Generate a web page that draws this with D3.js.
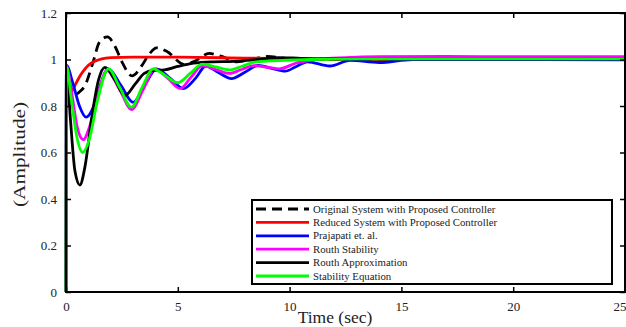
<!DOCTYPE html>
<html>
<head>
<meta charset="utf-8">
<script src="https://cdn.jsdelivr.net/npm/d3@7"></script>
<style>
  html, body { margin: 0; padding: 0; background: #fff; }
  svg { display: block; }
  text { font-family: "Liberation Serif", "Times New Roman", serif; fill: #222; }
</style>
</head>
<body>
<svg id="chart" width="626" height="327"></svg>
<script>
// ---- Data ----
const xTicks = [0, 5, 10, 15, 20, 25];
const yTicks = [0, 0.2, 0.4, 0.6, 0.8, 1, 1.2];
const seriesNames = [
  "Original System with Proposed Controller",
  "Reduced System with Proposed Controller",
  "Prajapati et. al.",
  "Routh Stability",
  "Routh Approximation",
  "Stability Equation"
];
const seriesColors = ["#000000", "#ff0000", "#0000ff", "#ff00ff", "#000000", "#00ff00"];

const tOriginal = [0, 0.3, 0.6, 0.85, 1.2, 1.5, 1.85, 2.2, 2.5, 2.95, 3.4, 3.7, 4.05, 4.5, 5.3, 5.8, 6.4, 7.0, 7.6, 8.3, 9.0, 9.7, 10.3, 11.5, 13, 16, 20, 25];
const vOriginal = [0.80, 0.84, 0.86, 0.888, 0.985, 1.075, 1.097, 1.055, 0.99, 0.93, 0.975, 1.02, 1.05, 1.035, 0.978, 0.995, 1.026, 1.012, 0.99, 1.0, 1.013, 1.006, 0.997, 1.0, 1.0, 1.0, 1.0, 1.0];

const tReduced = [0, 0.2, 0.4, 0.6, 0.8, 1.0, 1.3, 1.6, 2.0, 3, 5, 8, 11, 15, 25];
const vReduced = [0.80, 0.85, 0.888, 0.925, 0.953, 0.975, 0.993, 1.003, 1.008, 1.01, 1.01, 1.006, 1.002, 1.0, 1.0];

const tPrajapati = [0, 0.02, 0.3, 0.6, 0.9, 1.2, 1.5, 1.9, 2.45, 3.0, 3.5, 4.05, 4.65, 5.25, 5.8, 6.25, 6.8, 7.4, 8.0, 8.6, 9.2, 9.8, 10.3, 10.8, 11.8, 12.7, 14, 15.5, 17, 20, 25];
const vPrajapati = [0, 0.975, 0.90, 0.80, 0.752, 0.79, 0.88, 0.96, 0.89, 0.816, 0.885, 0.96, 0.92, 0.875, 0.92, 0.972, 0.945, 0.918, 0.945, 0.975, 0.962, 0.95, 0.97, 0.99, 0.972, 0.996, 0.987, 1.0, 1.0, 1.0, 0.998];

const tRouthStab = [0, 0.02, 0.25, 0.5, 0.77, 1.05, 1.4, 1.83, 2.4, 2.93, 3.45, 3.97, 4.55, 5.1, 5.6, 6.1, 6.7, 7.3, 7.85, 8.4, 9.0, 9.55, 10.3, 11.2, 12.5, 14, 17, 20, 25];
const vRouthStab = [0, 0.97, 0.86, 0.71, 0.655, 0.71, 0.84, 0.953, 0.87, 0.785, 0.87, 0.96, 0.92, 0.875, 0.925, 0.974, 0.957, 0.94, 0.957, 0.974, 0.967, 0.96, 0.985, 1.0, 1.008, 1.012, 1.013, 1.012, 1.012];

const tRouthApprox = [0, 0.02, 0.2, 0.4, 0.62, 0.85, 1.15, 1.45, 1.74, 2.2, 2.63, 3.1, 3.5, 3.9, 4.4, 5.0, 5.7, 6.5, 7.5, 8.6, 9.5, 10.5, 12, 15, 20, 25];
const vRouthApprox = [0, 0.97, 0.74, 0.52, 0.46, 0.54, 0.75, 0.91, 0.966, 0.91, 0.845, 0.895, 0.94, 0.953, 0.955, 0.97, 0.984, 0.99, 0.992, 1.0, 1.008, 1.005, 1.003, 1.003, 1.003, 1.003];

const tStabEq = [0, 0.02, 0.25, 0.5, 0.74, 1.05, 1.4, 1.9, 2.4, 2.93, 3.4, 3.9, 4.45, 5.0, 5.55, 6.1, 6.7, 7.3, 7.9, 8.5, 9.5, 11, 13, 16, 20, 25];
const vStabEq = [0, 0.97, 0.82, 0.66, 0.60, 0.66, 0.82, 0.96, 0.88, 0.795, 0.88, 0.96, 0.93, 0.90, 0.94, 0.98, 0.968, 0.955, 0.972, 0.99, 0.995, 1.0, 1.003, 1.003, 1.003, 1.003];

const seriesT = [tOriginal, tReduced, tPrajapati, tRouthStab, tRouthApprox, tStabEq];
const seriesV = [vOriginal, vReduced, vPrajapati, vRouthStab, vRouthApprox, vStabEq];
const seriesDash = ["10,6", null, null, null, null, null];

// ---- Layout ----
const svg = d3.select("#chart");
const pL = 66, pR = 625, pT = 13, pB = 292;
const x = d3.scaleLinear().domain([0, 25]).range([pL, pR]);
const y = d3.scaleLinear().domain([0, 1.2]).range([pB, pT]);

svg.append("defs").append("clipPath").attr("id", "clip")
  .append("rect").attr("x", pL - 2).attr("y", pT).attr("width", pR - pL + 2).attr("height", pB - pT);

const line = d3.line().x(d => x(d[0])).y(d => y(d[1])).curve(d3.curveMonotoneX);
const gLines = svg.append("g").attr("clip-path", "url(#clip)");
seriesNames.forEach((name, i) => {
  const pts = seriesT[i].map((t, j) => [t, seriesV[i][j]]);
  gLines.append("path")
    .attr("d", line(pts))
    .attr("fill", "none")
    .attr("stroke", seriesColors[i])
    .attr("stroke-width", 2.8)
    .attr("stroke-dasharray", seriesDash[i])
    .attr("stroke-linejoin", "round");
});

const fmtY = d => (d === 0 || d === 1) ? String(d) : d3.format(".1f")(d);
const axB = svg.append("g").attr("transform", `translate(0,${pB})`)
  .call(d3.axisBottom(x).tickValues(xTicks).tickSize(-5).tickPadding(10).tickFormat(d3.format("d")));
const axT = svg.append("g").attr("transform", `translate(0,${pT})`)
  .call(d3.axisTop(x).tickValues(xTicks).tickSize(-5).tickFormat(""));
const axL = svg.append("g").attr("transform", `translate(${pL},0)`)
  .call(d3.axisLeft(y).tickValues(yTicks).tickSize(-5).tickPadding(9).tickFormat(fmtY));
const axR = svg.append("g").attr("transform", `translate(${pR},0)`)
  .call(d3.axisRight(y).tickValues(yTicks).tickSize(-5).tickFormat(""));
[axB, axT, axL, axR].forEach(a => {
  a.select(".domain").remove();
  a.selectAll(".tick line").attr("stroke", "#000").attr("stroke-width", 1.5);
  a.selectAll(".tick text").style("font-size", "13px").style("font-family", "Liberation Serif, serif").attr("fill", "#222");
});
// keep the last x label inside the picture
axB.selectAll(".tick text").filter(d => d === 25).attr("text-anchor", "end").attr("dx", "1px");

svg.append("rect").attr("x", pL).attr("y", pT).attr("width", pR - pL).attr("height", pB - pT)
  .attr("fill", "none").attr("stroke", "#000").attr("stroke-width", 2);

svg.append("text").attr("x", 335).attr("y", 322.5).attr("text-anchor", "middle")
  .style("font-size", "17.5px").text("Time (sec)");
svg.append("text").attr("transform", "translate(25,154.5) rotate(-90)").attr("text-anchor", "middle")
  .style("font-size", "16px").attr("textLength", 105).attr("lengthAdjust", "spacingAndGlyphs")
  .text("(Amplitude)");

const lg = svg.append("g");
lg.append("rect").attr("x", 252).attr("y", 200).attr("width", 360).attr("height", 84)
  .attr("fill", "#fff").attr("stroke", "#000").attr("stroke-width", 2);
seriesNames.forEach((name, i) => {
  const yy = 209 + i * 13.4;
  lg.append("line").attr("x1", 256).attr("x2", 309).attr("y1", yy).attr("y2", yy)
    .attr("stroke", seriesColors[i]).attr("stroke-width", 2.8)
    .attr("stroke-dasharray", seriesDash[i]);
  lg.append("text").attr("x", 313).attr("y", yy + 3.5).style("font-size", "10.8px").text(name);
});
</script>
</body>
</html>
